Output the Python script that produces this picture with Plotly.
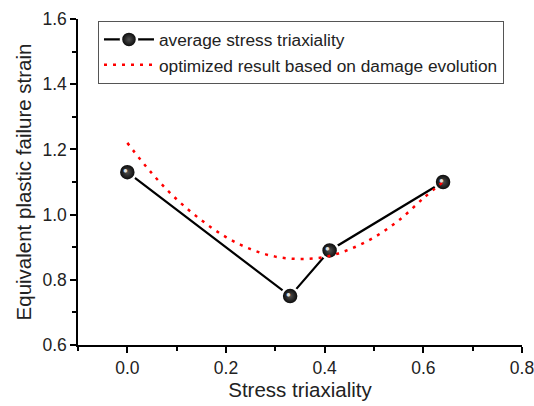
import plotly.graph_objects as go

# Measured data
triax = [0.0, 0.33, 0.41, 0.64]
strain = [1.13, 0.75, 0.89, 1.10]

# Optimized curve
opt_x = [0.0, 0.05, 0.10, 0.15, 0.20, 0.25, 0.30, 0.35, 0.40, 0.45, 0.50, 0.55, 0.60, 0.64]
opt_y = [1.22, 1.126, 1.047, 0.983, 0.931, 0.894, 0.871, 0.864, 0.870, 0.893, 0.930, 0.982, 1.05, 1.10]

names = ["average stress triaxiality", "optimized result based on damage evolution"]
x_title = "Stress triaxiality"
y_title = "Equivalent plastic failure strain"

FONT = "Arial, Liberation Sans, sans-serif"

fig = go.Figure()
fig.add_trace(go.Scatter(
    x=triax, y=strain, mode="lines+markers", name=names[0],
    line=dict(color="black", width=2.2),
    marker=dict(size=17, color="black", symbol="circle",
                gradient=dict(type="radial", color="#505050"),
                line=dict(color="white", width=2.5)),
))
fig.add_trace(go.Scatter(
    x=opt_x, y=opt_y, mode="lines", name=names[1],
    line=dict(color="#ff0000", width=2.5, dash="3px,6px", shape="spline"),
))

# specular highlight on each sphere
for xv, yv in zip(triax, strain):
    fig.add_annotation(x=xv, y=yv, text="●", showarrow=False,
                       xshift=-2, yshift=2,
                       font=dict(size=8, color="#e0e0e0", family=FONT))

axis_common = dict(
    showline=True, linecolor="black", linewidth=1.5,
    ticks="outside", ticklen=6, tickwidth=1.5, tickcolor="black",
    showgrid=False, zeroline=False, mirror=False, automargin=False,
    ticklabeloverflow="allow",
    tickfont=dict(family=FONT, size=17.5, color="#222"),
)

fig.update_xaxes(
    range=[-0.1, 0.8], tick0=0, dtick=0.2, tickformat=".1f",
    minor=dict(dtick=0.1, tick0=0, ticks="outside", ticklen=4, tickcolor="black", tickwidth=1.5),
    title=dict(text=x_title, font=dict(family=FONT, size=20.5, color="#222"), standoff=6),
    **axis_common,
)
fig.update_yaxes(
    range=[0.6, 1.6], tick0=0.6, dtick=0.2, tickformat=".1f",
    minor=dict(dtick=0.1, tick0=0.6, ticks="outside", ticklen=4, tickcolor="black", tickwidth=1.5),
    title=dict(text=y_title, font=dict(family=FONT, size=20.5, color="#222"), standoff=5),
    **axis_common,
)

fig.update_layout(
    width=534, height=406,
    margin=dict(l=78, r=12, t=19, b=61),
    paper_bgcolor="white", plot_bgcolor="white",
    showlegend=True,
    legend=dict(
        x=0.045, y=0.995, xanchor="left", yanchor="top",
        bordercolor="#555", borderwidth=1, bgcolor="white",
        font=dict(family=FONT, size=17.3, color="#222"),
        itemwidth=50, tracegroupgap=0, entrywidth=369,
    ),
)

fig.write_html("out.html", config={"displayModeBar": False},
               post_script="document.body.style.margin='0';document.body.style.overflow='hidden';")
